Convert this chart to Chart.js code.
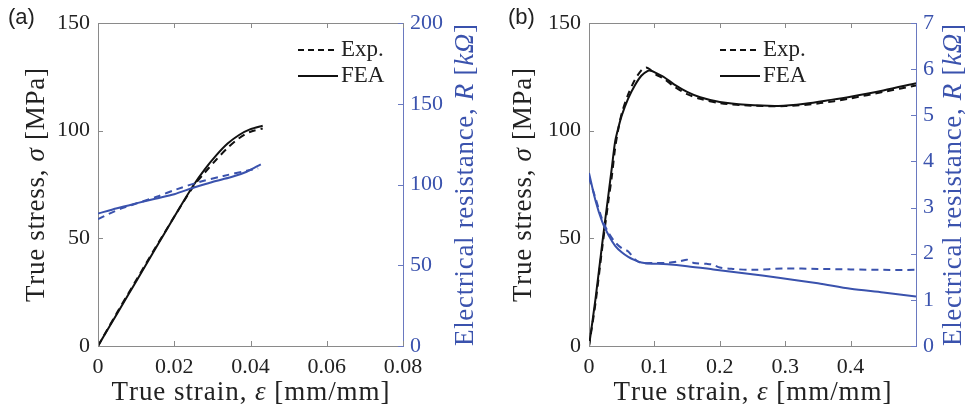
<!DOCTYPE html>
<html>
<head>
<meta charset="utf-8">
<script src="https://cdn.jsdelivr.net/npm/chart.js@4.4.1/dist/chart.umd.min.js"></script>
<style>
 body { margin: 0; background: #fff; }
 #wrap { position: relative; width: 966px; height: 408px; }
 .panel { position: absolute; top: 0; width: 483px; height: 408px; }
</style>
</head>
<body>
<div id="wrap">
 <div class="panel" style="left:0"><canvas id="chartA"></canvas></div>
 <div class="panel" style="left:483px"><canvas id="chartB"></canvas></div>
</div>
<script>
// ---- panel (a) data ----
var aFeaStrain = [0, 0.005, 0.01, 0.015, 0.02, 0.025, 0.028, 0.031, 0.034, 0.037, 0.04, 0.0432];
var aFeaStress = [0, 15, 30, 45, 60, 74.5, 82, 88.5, 94, 98, 100.7, 102.3];
var aExpStrain = [0, 0.005, 0.01, 0.015, 0.02, 0.025, 0.028, 0.031, 0.034, 0.037, 0.04, 0.0432];
var aExpStress = [0, 15.5, 30.5, 45.5, 60, 74, 80.5, 86.5, 92, 96.5, 99.5, 101];
var aFeaRStrain = [0, 0.005, 0.01, 0.015, 0.02, 0.025, 0.03, 0.035, 0.039, 0.0427];
var aFeaR = [82, 85.3, 88.3, 91.2, 94, 98, 101.6, 104.6, 107.9, 112.5];
var aExpRStrain = [0, 0.003, 0.0066, 0.0154, 0.0206, 0.0268, 0.0329, 0.039, 0.042];
var aExpR = [78.5, 82, 85.5, 92.4, 97, 101.7, 105.3, 108.5, 110];

var aXTicks = [0, 0.02, 0.04, 0.06, 0.08];
var aXLabels = ["0", "0.02", "0.04", "0.06", "0.08"];
var aYTicks = [0, 50, 100, 150];
var aRTicks = [0, 50, 100, 150, 200];

// ---- panel (b) data ----
var bFeaStrain = [0, 0.01, 0.02, 0.03, 0.035, 0.04, 0.045, 0.05, 0.06, 0.07, 0.08, 0.09, 0.095, 0.1, 0.115, 0.13, 0.15, 0.17, 0.2, 0.24, 0.29, 0.33, 0.37, 0.4, 0.45, 0.5];
var bFeaStress = [0, 22, 47, 71, 83, 95, 101.5, 107, 115, 121, 125.5, 127.8, 127.8, 127.2, 124.8, 121.5, 118, 115.5, 113.3, 112, 111.5, 112.5, 114.3, 115.8, 118.7, 122];
var bExpStrain = [0, 0.01, 0.02, 0.03, 0.035, 0.04, 0.045, 0.05, 0.06, 0.07, 0.08, 0.087, 0.093, 0.1, 0.115, 0.13, 0.15, 0.17, 0.2, 0.25, 0.3, 0.35, 0.4, 0.45, 0.5];
var bExpStress = [0, 20, 45, 68, 79, 92, 101, 108, 117, 123.5, 128, 129.3, 128.5, 126.5, 124, 120.5, 117, 114.8, 112.8, 111.6, 111.4, 112.6, 115, 118, 121];
var bFeaRStrain = [0, 0.01, 0.02, 0.03, 0.04, 0.05, 0.06, 0.07, 0.08, 0.09, 0.12, 0.15, 0.19, 0.24, 0.29, 0.35, 0.4, 0.45, 0.5];
var bFeaR = [3.75, 3.15, 2.7, 2.4, 2.17, 2.03, 1.93, 1.86, 1.81, 1.79, 1.77, 1.73, 1.66, 1.57, 1.48, 1.36, 1.24, 1.16, 1.07];
var bExpRStrain = [0, 0.01, 0.02, 0.03, 0.04, 0.05, 0.06, 0.07, 0.08, 0.1, 0.12, 0.14, 0.15, 0.16, 0.18, 0.19, 0.2, 0.22, 0.25, 0.3, 0.35, 0.4, 0.45, 0.5];
var bExpR = [3.65, 3.2, 2.75, 2.45, 2.25, 2.12, 2.05, 1.88, 1.8, 1.8, 1.8, 1.84, 1.87, 1.8, 1.78, 1.76, 1.7, 1.67, 1.65, 1.68, 1.67, 1.66, 1.65, 1.65];

var bXTicks = [0, 0.1, 0.2, 0.3, 0.4];
var bXLabels = ["0", "0.1", "0.2", "0.3", "0.4"];
var bYTicks = [0, 50, 100, 150];
var bRTicks = [0, 1, 2, 3, 4, 5, 6, 7];

var legendLabels = ["Exp.", "FEA"];

var black = "#111111";
var blue = "#3a52ad";
var axisGray = "#8a8a8a";
var axisBlue = "#6a79c0";
var serif = '"Liberation Serif", "DejaVu Serif", serif';

function pts(xs, ys) {
 return xs.map(function (x, i) {
  return { x: x, y: ys[i] };
 });
}

// mixed upright/italic text, spread out to a target length (LaTeX fonts run wider)
function drawRich(ctx, parts, x, y, rot, size, color, target) {
 ctx.save();
 ctx.translate(x, y);
 ctx.rotate(rot);
 var chars = [];
 var total = 0;
 parts.forEach(function (p) {
  var f = (p[1] ? "italic " : "") + size + "px " + serif;
  ctx.font = f;
  p[0].split("").forEach(function (c) {
   var w = ctx.measureText(c).width;
   chars.push({ c: c, f: f, w: w });
   total += w;
  });
 });
 var extra = target ? (target - total) / (chars.length - 1) : 0;
 var cx = -(total + extra * (chars.length - 1)) / 2;
 ctx.fillStyle = color;
 ctx.textBaseline = "middle";
 ctx.textAlign = "left";
 chars.forEach(function (ch) {
  ctx.font = ch.f;
  ctx.fillText(ch.c, cx, 0);
  cx += ch.w + extra;
 });
 ctx.restore();
}

// box, inward ticks, titles, legend, panel letter
var decor = {
 id: "decor",
 afterDraw: function (chart, args, o) {
  var ctx = chart.ctx;
  var a = chart.chartArea;
  var sx = chart.scales.x;
  var sy = chart.scales.y;
  var sr = chart.scales.yR;
  var tl = 5;
  ctx.save();
  ctx.lineWidth = 1;
  ctx.strokeStyle = axisGray;
  ctx.beginPath();
  ctx.moveTo(a.left, a.top + 0.5);
  ctx.lineTo(a.right, a.top + 0.5);
  sx.ticks.forEach(function (t) {
   var px = Math.round(sx.getPixelForValue(t.value)) + 0.5;
   ctx.moveTo(px, a.bottom);
   ctx.lineTo(px, a.bottom - tl);
   ctx.moveTo(px, a.top);
   ctx.lineTo(px, a.top + tl);
  });
  sy.ticks.forEach(function (t) {
   var py = Math.round(sy.getPixelForValue(t.value)) + 0.5;
   ctx.moveTo(a.left, py);
   ctx.lineTo(a.left + tl, py);
  });
  ctx.stroke();
  ctx.strokeStyle = axisBlue;
  ctx.beginPath();
  sr.ticks.forEach(function (t) {
   var py = Math.round(sr.getPixelForValue(t.value)) + 0.5;
   ctx.moveTo(a.right, py);
   ctx.lineTo(a.right - tl, py);
  });
  ctx.stroke();

  drawRich(ctx, [["True strain, ", false], ["\u03b5", true], [" [mm/mm]", false]],
   (a.left + a.right) / 2, o.xTitleY, 0, 27, "#222", 278);
  drawRich(ctx, [["True stress, ", false], ["\u03c3", true], [" [MPa]", false]],
   o.yTitleX, 185, -Math.PI / 2, 27, "#222", 234);
  drawRich(ctx, [["Electrical resistance, ", false], ["R", true], [" [", false], ["k\u03a9", true], ["]", false]],
   o.rTitleX, 185, -Math.PI / 2, 27, blue, 322);

  // legend
  var lx = a.left + o.legendX;
  var ly = [a.top + 27, a.top + 53];
  ctx.strokeStyle = black;
  ctx.lineWidth = 2;
  ctx.setLineDash([6, 4]);
  ctx.beginPath();
  ctx.moveTo(lx, ly[0]);
  ctx.lineTo(lx + 40, ly[0]);
  ctx.stroke();
  ctx.setLineDash([]);
  ctx.beginPath();
  ctx.moveTo(lx, ly[1]);
  ctx.lineTo(lx + 40, ly[1]);
  ctx.stroke();
  ctx.fillStyle = "#222";
  ctx.font = "23px " + serif;
  ctx.textBaseline = "middle";
  ctx.textAlign = "left";
  ctx.fillText(legendLabels[0], lx + 43, ly[0]);
  ctx.fillText(legendLabels[1], lx + 43, ly[1]);

  ctx.font = '22px "Liberation Sans", Arial, sans-serif';
  ctx.fillText(o.letter, o.letterX, 18);
  ctx.restore();
 },
};

function makePanel(id, p) {
 var chartDiv = document.getElementById(id);
 new Chart(chartDiv, {
  type: "scatter",
  data: {
   datasets: [
    { data: pts(p.feaRStrain, p.feaR), yAxisID: "yR", borderColor: blue, borderWidth: 2 },
    { data: pts(p.expRStrain, p.expR), yAxisID: "yR", borderColor: blue, borderWidth: 2, borderDash: [7, 5] },
    { data: pts(p.feaStrain, p.feaStress), yAxisID: "y", borderColor: black, borderWidth: 2 },
    { data: pts(p.expStrain, p.expStress), yAxisID: "y", borderColor: black, borderWidth: 2, borderDash: [7, 5] },
   ],
  },
  options: {
   responsive: false,
   animation: false,
   showLine: true,
   elements: { point: { radius: 0 }, line: { tension: 0.3, fill: false } },
   layout: { padding: { top: 23, left: 0, right: 0, bottom: 0 } },
   plugins: {
    legend: { display: false },
    tooltip: { enabled: false },
    decor: p.decor,
   },
   scales: {
    x: {
     type: "linear",
     min: 0,
     max: p.xMax,
     grid: { display: false, drawTicks: false },
     border: { display: true, color: axisGray, width: 1 },
     afterBuildTicks: function (s) {
      s.ticks = p.xTicks.map(function (v) { return { value: v }; });
     },
     afterFit: function (s) { s.height = 62; },
     ticks: {
      padding: 8,
      color: "#222",
      font: { family: serif, size: 22 },
      maxRotation: 0,
      callback: function (v, i) { return p.xLabels[i]; },
     },
    },
    y: {
     type: "linear",
     position: "left",
     min: 0,
     max: 150,
     grid: { display: false, drawTicks: false },
     border: { display: true, color: axisGray, width: 1 },
     afterBuildTicks: function (s) {
      s.ticks = p.yTicks.map(function (v) { return { value: v }; });
     },
     afterFit: function (s) { s.width = p.leftW; },
     ticks: { padding: 8, color: "#222", font: { family: serif, size: 22 } },
    },
    yR: {
     type: "linear",
     position: "right",
     min: 0,
     max: p.rMax,
     grid: { display: false, drawTicks: false },
     border: { display: true, color: axisBlue, width: 1 },
     afterBuildTicks: function (s) {
      s.ticks = p.rTicks.map(function (v) { return { value: v }; });
     },
     afterFit: function (s) { s.width = p.rightW; },
     ticks: { padding: 7, color: blue, font: { family: serif, size: 22 } },
    },
   },
  },
  plugins: [decor],
 });
}

var canvasA = document.getElementById("chartA");
canvasA.width = 483; canvasA.height = 408;
var canvasB = document.getElementById("chartB");
canvasB.width = 483; canvasB.height = 408;

makePanel("chartA", {
 feaStrain: aFeaStrain, feaStress: aFeaStress,
 expStrain: aExpStrain, expStress: aExpStress,
 feaRStrain: aFeaRStrain, feaR: aFeaR,
 expRStrain: aExpRStrain, expR: aExpR,
 xMax: 0.08, xTicks: aXTicks, xLabels: aXLabels,
 yTicks: aYTicks, rTicks: aRTicks, rMax: 200,
 leftW: 98, rightW: 80,
 decor: { xTitleY: 393, yTitleX: 37, rTitleX: 466, legendX: 200, letter: "(a)", letterX: 8 },
});

makePanel("chartB", {
 feaStrain: bFeaStrain, feaStress: bFeaStress,
 expStrain: bExpStrain, expStress: bExpStress,
 feaRStrain: bFeaRStrain, feaR: bFeaR,
 expRStrain: bExpRStrain, expR: bExpR,
 xMax: 0.5, xTicks: bXTicks, xLabels: bXLabels,
 yTicks: bYTicks, rTicks: bRTicks, rMax: 7,
 leftW: 106, rightW: 50,
 decor: { xTitleY: 393, yTitleX: 41, rTitleX: 471, legendX: 131, letter: "(b)", letterX: 25 },
});
</script>
</body>
</html>
